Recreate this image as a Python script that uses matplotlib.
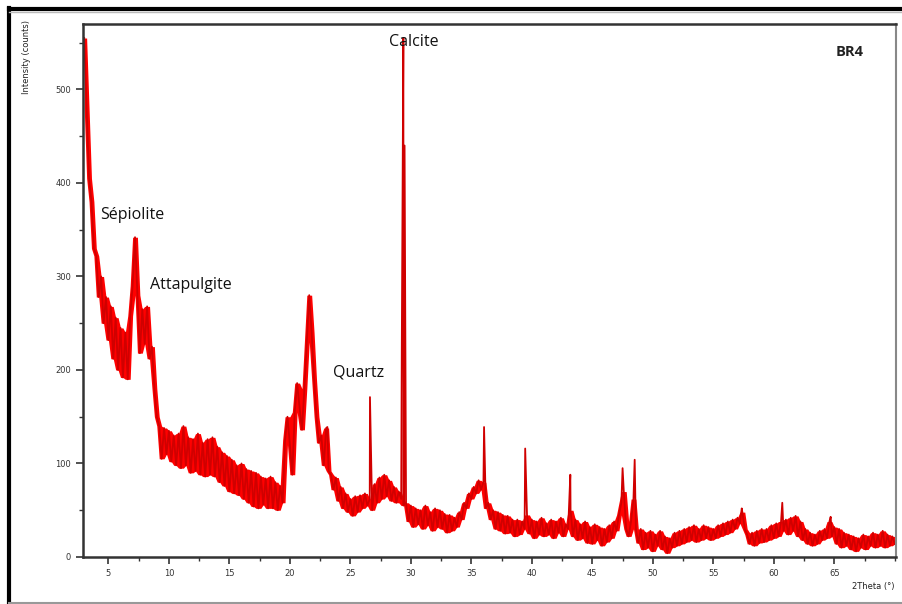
import numpy as np
import pandas as pd
import matplotlib
matplotlib.use("Agg")
import matplotlib.pyplot as plt
from matplotlib.lines import Line2D
from matplotlib.ticker import MultipleLocator

# XRD pattern of sample BR4 (step 0.2 deg, 3..70)
two_theta = np.round(np.linspace(3.0, 70.0, 336), 1)
counts = [
    555, 480, 405, 380, 330, 322, 278, 300, 250, 278,
    232, 268, 212, 256, 200, 245, 192, 240, 190, 258,
    290, 342, 280, 218, 265, 228, 268, 212, 225, 180,
    150, 140, 105, 138, 110, 135, 102, 130, 98, 132,
    95, 140, 98, 128, 90, 126, 92, 132, 88, 122,
    86, 126, 88, 128, 86, 118, 80, 112, 76, 108,
    70, 104, 68, 98, 66, 100, 62, 94, 58, 92,
    54, 90, 52, 86, 56, 84, 52, 86, 52, 80,
    50, 76, 58, 125, 150, 120, 88, 155, 186, 160,
    136, 180, 230, 280, 240, 190, 150, 122, 130, 98,
    138, 92, 88, 72, 85, 60, 75, 52, 68, 48,
    62, 44, 65, 48, 66, 52, 68, 55, 62, 50,
    78, 58, 85, 62, 88, 65, 82, 60, 75, 58,
    70, 62, 55, 58, 38, 55, 32, 52, 35, 50,
    30, 55, 34, 48, 28, 52, 32, 50, 30, 46,
    26, 45, 28, 42, 32, 48, 40, 58, 52, 68,
    62, 75, 68, 82, 72, 80, 52, 58, 40, 50,
    30, 48, 28, 45, 25, 44, 26, 40, 22, 40,
    24, 38, 30, 45, 25, 40, 20, 38, 24, 42,
    22, 36, 24, 40, 20, 38, 26, 42, 22, 35,
    30, 50, 22, 40, 18, 35, 20, 38, 15, 32,
    14, 35, 18, 32, 12, 30, 16, 34, 20, 38,
    28, 45, 58, 70, 30, 22, 38, 62, 30, 15,
    30, 8, 26, 10, 28, 6, 24, 12, 28, 8,
    22, 4, 20, 10, 26, 12, 28, 14, 30, 16,
    32, 18, 34, 16, 30, 18, 34, 20, 32, 18,
    30, 20, 34, 22, 36, 24, 38, 26, 40, 30,
    42, 36, 48, 30, 24, 14, 26, 12, 28, 15,
    30, 16, 30, 18, 34, 20, 36, 22, 38, 28,
    40, 24, 42, 28, 44, 22, 38, 18, 30, 14,
    26, 12, 24, 14, 28, 18, 30, 20, 38, 22,
    32, 14, 30, 10, 26, 12, 24, 8, 22, 6,
    20, 10, 24, 8, 22, 12, 26, 10, 24, 12,
    28, 10, 24, 12, 22, 14,
]

# sharp reflections between grid points
peak_pos = [23.1, 26.62, 29.25, 29.38, 29.48, 36.05, 39.45, 43.18, 47.5, 48.5, 57.35, 60.7, 64.7]
peak_h = [139, 171, 225, 555, 440, 139, 116, 88, 95, 104, 52, 58, 43]

labels = ["Sépiolite", "Attapulgite", "Quartz", "Calcite"]
label_x = [4.3, 8.45, 23.6, 28.2]
label_y = [366, 291, 197, 551]

# noise band of the scan = running min / max of neighbouring counts
s = pd.Series(counts, dtype=float)
band_lo = s.rolling(3, center=True, min_periods=1).min()
band_hi = s.rolling(3, center=True, min_periods=1).max()

x = np.concatenate([two_theta, peak_pos])
y = np.concatenate([counts, peak_h])
order = np.argsort(x, kind="stable")
x = x[order]
y = y[order]

fig = plt.figure(figsize=(9.03, 6.04), dpi=100)
ax = fig.add_axes([83 / 903, 1 - 557 / 604, 813 / 903, 533 / 604])

ax.fill_between(two_theta, band_lo, band_hi, color="#ff0000", lw=0)
ax.plot(x, y, color="#d00000", lw=1.3)

ax.set_xlim(2.9, 70.1)
ax.set_ylim(0, 570)
ax.xaxis.set_major_locator(MultipleLocator(5))
ax.xaxis.set_minor_locator(MultipleLocator(2.5))
ax.yaxis.set_major_locator(MultipleLocator(100))
ax.yaxis.set_minor_locator(MultipleLocator(50))
ax.set_xticks([t for t in range(5, 70, 5)])
ax.tick_params(which="major", direction="out", length=5, width=1.2, labelsize=6, colors="#333333")
ax.tick_params(which="minor", direction="out", length=3, width=1.0, colors="#333333")

for side in ["left", "bottom", "top"]:
    ax.spines[side].set_linewidth(1.8)
    ax.spines[side].set_color("#333333")
ax.spines["right"].set_linewidth(1.5)
ax.spines["right"].set_color("#888888")

font = ["Open Sans", "DejaVu Sans"]
for t, lx, ly in zip(labels, label_x, label_y):
    ax.text(lx, ly, t, fontsize=11.5, family=font, ha="left", va="center", color="#111111")
ax.text(65.1, 540, "BR4", fontsize=10.5, family=font, fontweight="bold", ha="left", va="center", color="#222222")

ax.text(-0.069, 1.007, "Intensity (counts)", transform=ax.transAxes, rotation=90,
        ha="center", va="top", fontsize=6, color="#222222")
ax.text(0.946, -0.056, "2Theta (°)", transform=ax.transAxes,
        ha="left", va="center", fontsize=6, color="#222222")

# outer frame of the figure
fig.add_artist(Line2D([9.5 / 903, 9.5 / 903], [0, 1 - 8 / 604], color="black", lw=3))
fig.add_artist(Line2D([9.5 / 903, 1], [1 - 8.5 / 604, 1 - 8.5 / 604], color="black", lw=3))
fig.add_artist(Line2D([9.5 / 903, 1], [1 - 11.5 / 604, 1 - 11.5 / 604], color="#bbbbbb", lw=1))
fig.add_artist(Line2D([9.5 / 903, 1], [1.5 / 604, 1.5 / 604], color="#999999", lw=1.5))

fig.savefig("out.png", dpi=100)
